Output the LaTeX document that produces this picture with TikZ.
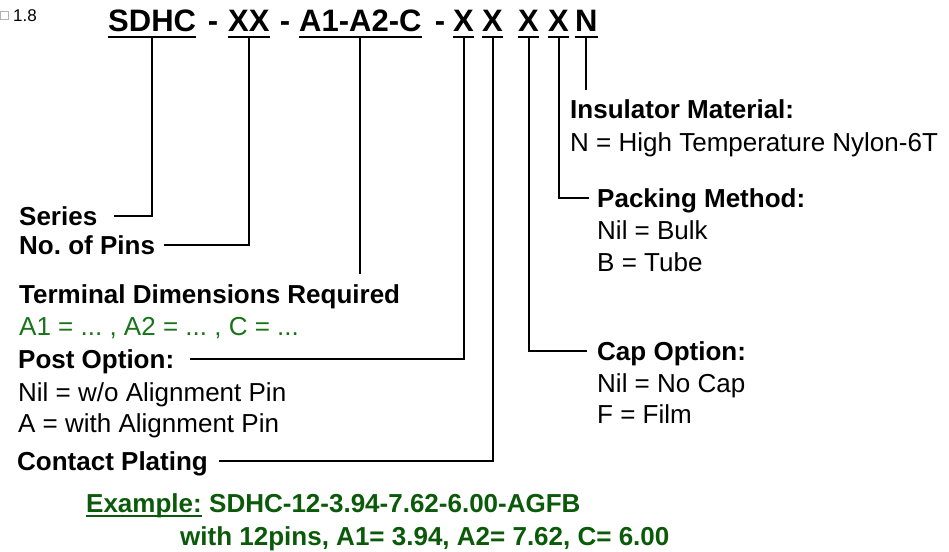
\documentclass[tikz,border=0pt]{standalone}
\usepackage{fontspec}
\setmainfont{Liberation Sans}
\frenchspacing
\definecolor{dimgreen}{RGB}{25,115,25}
\definecolor{exgreen}{RGB}{10,90,10}

\begin{document}
\begin{tikzpicture}[x=1pt,y=-1pt,
    code/.style={font=\fontsize{31}{37}\selectfont\bfseries, inner sep=0pt, anchor=base west},
    hyph/.style={font=\fontsize{31}{37}\selectfont\bfseries, inner sep=0pt, anchor=base},
    head/.style={font=\fontsize{26}{31}\selectfont\bfseries, inner sep=0pt, anchor=base west, text height=18.6pt, text depth=0pt},
    item/.style={font=\fontsize{26}{31}\selectfont, inner sep=0pt, anchor=base west},
    exhead/.style={font=\fontsize{26}{31}\selectfont\bfseries, text=exgreen, inner sep=0pt, anchor=base west},
    lead/.style={line width=2pt},
    uline/.style={line width=2.5pt}]
    \useasboundingbox (0,0) rectangle (949,551);

    % Version
    \node[draw=gray!60, line width=0.5pt, minimum size=8pt, inner sep=0pt] (glyph) at (4.5,15) {};
    \node[anchor=base west, inner sep=0pt, font=\fontsize{17}{20}\selectfont] (ver) at (13,22) {1.8};

    % Code de commande
    \node[code] (sdhc) at (108,32) {SDHC};
    \node[hyph] (h1) at (213,32) {-};
    \node[code] (pins) at (228,32) {XX};
    \node[hyph] (h2) at (285,32) {-};
    \node[code] (dims) at (299,32) {A1-A2-C};
    \node[hyph] (h3) at (440,32) {-};
    \node[code] (post) at (453,32) {X};
    \node[code] (plate) at (482,32) {X};
    \node[code] (cap) at (518,32) {X};
    \node[code] (pack) at (548,32) {X};
    \node[code] (ins) at (575,32) {N};
    \foreach \n in {sdhc,pins,dims,post,plate,cap,pack,ins}
        \draw[uline] ([yshift=-5pt]\n.base west) -- ([yshift=-5pt]\n.base east); % soulignement

    % Libellés à gauche
    \node[head] (serieslbl) at (19,225) {Series};
    \node[head] (pinslbl) at (19,254) {No. of Pins};
    \node[head] (dimslbl) at (19,303) {Terminal Dimensions Required};
    \node[item, text=dimgreen] (dimsval) at (19,335) {A1 = ... , A2 = ... , C = ...};
    \node[head] (postlbl) at (18,368) {Post Option:};
    \node[item] (postnil) at (18,401) {Nil = w/o Alignment Pin};
    \node[item] (posta) at (18,432) {A = with Alignment Pin};
    \node[head] (platelbl) at (17,470) {Contact Plating};

    % Libellés à droite
    \node[head] (inslbl) at (570,118) {Insulator Material:};
    \node[item] (insval) at (570,151) {N = High Temperature Nylon-6T};
    \node[head] (packlbl) at (597,207) {Packing Method:};
    \node[item] (packnil) at (597,239) {Nil = Bulk};
    \node[item] (packb) at (597,271) {B = Tube};
    \node[head] (caplbl) at (597,360) {Cap Option:};
    \node[item] (capnil) at (597,392) {Nil = No Cap};
    \node[item] (capf) at (597,423) {F = Film};

    % Renvois
    \coordinate (dimsend) at (0,274);
    \coordinate (insend) at (0,90);
    \draw[lead] ([yshift=-6pt]sdhc.base) |- ([xshift=17pt]serieslbl.east);
    \draw[lead] ([yshift=-6pt]pins.base) |- ([xshift=9pt]pinslbl.east);
    \draw[lead] ([yshift=-6pt]dims.base) -- (dims.base |- dimsend);
    \draw[lead] ([yshift=-6pt]post.base) |- ([xshift=16pt]postlbl.east);
    \draw[lead] ([yshift=-6pt]plate.base) |- ([xshift=11pt]platelbl.east);
    \draw[lead] ([yshift=-6pt]cap.base) |- ([xshift=-10pt]caplbl.west);
    \draw[lead] ([yshift=-6pt]pack.base) |- ([xshift=-8pt]packlbl.west);
    \draw[lead] ([yshift=-6pt]ins.base) -- (ins.base |- insend);

    % Exemple
    \node[exhead] (example) at (86,512) {Example:};
    \node[exhead] (exnum) at ([xshift=7pt]example.base east) {SDHC-12-3.94-7.62-6.00-AGFB};
    \draw[line width=2pt, exgreen] ([yshift=-4pt]example.base west) -- ([yshift=-4pt]example.base east);
    \node[exhead] (exnote) at (180,545) {with 12pins, A1= 3.94, A2= 7.62, C= 6.00};
\end{tikzpicture}
\end{document}
